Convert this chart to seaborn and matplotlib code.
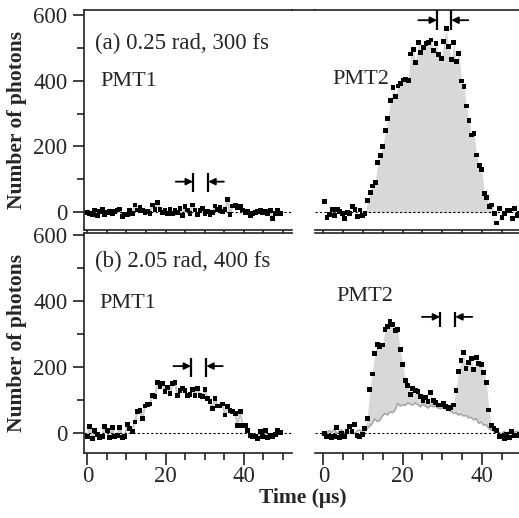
import numpy as np
import matplotlib
matplotlib.use('Agg')
import matplotlib.pyplot as plt
from matplotlib.ticker import MultipleLocator
from matplotlib.lines import Line2D
import seaborn as sns

# ---------------- data ----------------
dt = 0.64  # sampling step in microseconds
t0_pmt1_a = 0.0
t0_pmt2_a = 0.3
t0_pmt1_b = 0.0
t0_pmt2_b = 0.2

pmt1_a = [-1, -3, -8, 7, -11, 2, 9, -8, -1,
          2, -5, 2, 7, 10, -13, -8, -6, 7, -3,
          22, 7, 15, 5, -1, 2, -3, 22, 9, 29,
          9, -1, 7, -3, 9, -5, 7, -1, 12, -11,
          17, 7, -3, 22, 7, -8, 5, 12, -5,
          2, -8, -1, 19, 9, 15, 2, 9, 39, -8,
          19, 22, 15, 17, 7, -1, 2, -11, -5, -1,
          2, 5, -1, 2, -3, 5, -18, -3, 7, -3]

pmt2_a = [32, -15, -8, 9, -11, 9, 2, -3, -18, -1,
          -3, 17, 9, -13, 7, -11, -5, 35, 60, 80,
          90, 152, 172, 199, 248, 284, 339, 380, 352, 384,
          392, 402, 404, 400, 481, 496, 455, 517, 486, 501,
          514, 517, 524, 493, 514, 480, 468, 518, 559, 503,
          465, 517, 458, 483, 399, 382, 323, 278, 235, 240,
          174, 141, 129, 58, 46, 17, 22, -3, -33, 12,
          -15, -3, 7, 5, -18, 12, -11, -5]

pmt1_b = [-11, 21, -16, 7, -3, -13, -9, 19, 7, -13,
          17, -9, -6, 17, -13, -11, 27, 14, 6, 34,
          65, 68, 44, 82, 86, 88, 115, 110, 153, 142,
          150, 125, 138, 120, 150, 153, 115, 130, 135, 130,
          115, 118, 132, 115, 135, 115, 112, 132, 105, 95,
          75, 105, 82, 82, 88, 55, 80, 68, 65, 60,
          24, 65, 24, 24, 7, -6, -9, -11, -16, 4,
          -11, 9, -13, -6, -9, -3, 9, 1]

pmt2_b = [-1, -11, -9, -13, -11, 17, -13, 0, -11, 5,
          21, 5, 26, -6, -11, -4, 14, 44, 133, 179,
          241, 269, 262, 267, 314, 324, 337, 330, 310, 314,
          253, 209, 159, 145, 118, 135, 128, 125, 112, 100,
          108, 95, 123, 100, 92, 85, 85, 90, 80, 73,
          78, 85, 130, 186, 219, 244, 196, 215, 226, 193,
          228, 211, 208, 183, 153, 70, 24, 14, 7, -11,
          -9, -15, -5, -12, 5, -8, -8, -3]

pmt2_b_ref = [5, -3, 8, 2, 12, -2, 6, 10, 0, 8,
              3, 12, -4, 6, 10, 2, 8, 14, 22, 29,
              44, 35, 39, 52, 60, 55, 65, 62, 70, 90,
              82, 86, 84, 92, 88, 85, 92, 86, 80, 88,
              82, 76, 84, 80, 82, 76, 74, 78, 72, 70,
              66, 60, 62, 55, 58, 52, 54, 46, 48, 40,
              44, 30, 34, 24, 26, 14, 10, 6, 4, 2,
              -2, 5, 0, 4, -3, 3, 6, 2]

panel_titles = ["(a) 0.25 rad, 300 fs", "(b) 2.05 rad, 400 fs"]
detectors = ["PMT1", "PMT2"]
y_ticks = [0, 200, 400, 600]
x_ticks = [0, 20, 40]

# pulse-width markers: (bar1, bar2, arrow y, bar low, bar high, left start, right start)
markers_a1 = (27.0, 30.9, 93, 62, 118, 22.6, 34.9)
markers_a2 = (28.7, 32.3, 584, 554, 614, 24.0, 36.6)
markers_b1 = (26.5, 30.4, 203, 170, 229, 22.0, 34.6)
markers_b2 = (29.5, 33.3, 352, 322, 368, 24.9, 37.6)

# ---------------- style ----------------
sns.set_style('ticks')
plt.rcParams['font.family'] = ['Liberation Serif', 'DejaVu Serif']
plt.rcParams['axes.linewidth'] = 1.2

W, H = 519, 518
fig = plt.figure(figsize=(W / 100, H / 100), dpi=100)

def fx(px):
    return px / W

def fy(py):
    return 1 - py / H

L0, L1 = 84, 292
R0, R1 = 315, 519
T0, T1 = 10, 230
B0, B1 = 233.3, 453.3

ax_tl = fig.add_axes([fx(L0), fy(T1), (L1 - L0) / W, (T1 - T0) / H])
ax_tr = fig.add_axes([fx(R0), fy(T1), (R1 - R0) / W, (T1 - T0) / H])
ax_bl = fig.add_axes([fx(L0), fy(B1), (L1 - L0) / W, (B1 - B0) / H])
ax_br = fig.add_axes([fx(R0), fy(B1), (R1 - R0) / W, (B1 - B0) / H])

TICK_FS = 16.5
TEXT_FS = 16

spine_col = '#222222'
for ax in (ax_tl, ax_tr, ax_bl, ax_br):
    for s in ax.spines.values():
        s.set_color(spine_col)
        s.set_linewidth(1.2)
    ax.spines['right'].set_visible(False)
    ax.xaxis.set_major_locator(MultipleLocator(20))
    ax.xaxis.set_minor_locator(MultipleLocator(5))
    ax.tick_params(axis='x', which='major', direction='out', length=8.5, width=1.2,
                   labelsize=TICK_FS, pad=1.0, color=spine_col, top=False)
    ax.tick_params(axis='x', which='minor', direction='out', length=5, width=1.2,
                   color=spine_col, top=False)
    ax.axhline(0, color='k', lw=0.8, ls=(0, (2, 2)), zorder=3)

for ax in (ax_tl, ax_tr):
    ax.set_ylim(-54, 615)
    ax.tick_params(axis='x', labelbottom=False)
for ax in (ax_bl, ax_br):
    ax.set_ylim(-61, 605)

for ax in (ax_tl, ax_bl):
    ax.set_xlim(-0.85, 52.3)
    ax.set_yticks(y_ticks)
    ax.yaxis.set_minor_locator(MultipleLocator(100))
    ax.tick_params(axis='y', which='major', direction='out', length=8, width=1.2,
                   labelsize=TICK_FS, pad=4, color=spine_col, right=False)
    ax.tick_params(axis='y', which='minor', direction='out', length=5, width=1.2,
                   color=spine_col, right=False)
    ax.set_ylabel('Number of photons', fontsize=15.5, fontweight='bold')
    ax.yaxis.set_label_coords(-0.275, 0.5)

for ax in (ax_tr, ax_br):
    ax.set_xlim(-2.1, 49.4)
    ax.spines['left'].set_visible(False)
    ax.set_yticks([])

for ax in (ax_tl, ax_bl, ax_tr, ax_br):
    ax.set_xticks(x_ticks)

# bridge the top frame line across the gap between the top panels
fig.add_artist(Line2D([fx(L1) - 0.002, fx(R0) + 0.002], [fy(T0)] * 2,
                      transform=fig.transFigure, color=spine_col, lw=1.2,
                      solid_capstyle='butt'))

def times(t0, vals):
    return t0 + dt * np.arange(len(vals))

def dots(ax, t, v):
    sns.scatterplot(x=t, y=v, ax=ax, marker='s', s=12, color='k', edgecolor='none',
                    linewidth=0, zorder=5, legend=False)

fill_col = '#d8d8d8'

# (a) PMT1
t = times(t0_pmt1_a, pmt1_a)
sns.lineplot(x=t, y=pmt1_a, ax=ax_tl, color='#c8c8c8', lw=1.5, zorder=2, legend=False)
dots(ax_tl, t, pmt1_a)

# (a) PMT2
t = times(t0_pmt2_a, pmt2_a)
v = np.array(pmt2_a, dtype=float)
pulse = (t > 10.3) & (t < 43.5)
ax_tr.fill_between(t, 0, v, where=pulse & (v > 0), interpolate=True, color=fill_col,
                   lw=0, zorder=1)
dots(ax_tr, t, pmt2_a)

# (b) PMT1
t = times(t0_pmt1_b, pmt1_b)
sns.lineplot(x=t, y=pmt1_b, ax=ax_bl, color='#c8c8c8', lw=1.5, zorder=2, legend=False)
dots(ax_bl, t, pmt1_b)

# (b) PMT2
t = times(t0_pmt2_b, pmt2_b)
v = np.array(pmt2_b, dtype=float)
r = np.array(pmt2_b_ref, dtype=float)
pulse = (t > 10.0) & (t < 43.5)
ax_br.fill_between(t, r, v, where=pulse & (v > r), interpolate=True, color=fill_col,
                   lw=0, zorder=1)
sns.lineplot(x=t, y=pmt2_b_ref, ax=ax_br, color='#a8a8a8', lw=1.2, zorder=2, legend=False)
dots(ax_br, t, pmt2_b)

def bracket(ax, m):
    x1, x2, y, ylo, yhi, ls, rs = m
    ax.vlines([x1, x2], ylo, yhi, color='k', lw=1.6, zorder=6, clip_on=False)
    ap = dict(arrowstyle='-|>', color='k', lw=1.3, mutation_scale=10, shrinkA=0, shrinkB=0)
    ax.annotate('', xy=(x1, y), xytext=(ls, y), arrowprops=ap, zorder=6)
    ax.annotate('', xy=(x2, y), xytext=(rs, y), arrowprops=ap, zorder=6)

bracket(ax_tl, markers_a1)
bracket(ax_tr, markers_a2)
bracket(ax_bl, markers_b1)
bracket(ax_br, markers_b2)

# texts
ax_tl.text(0.053, 0.85, panel_titles[0], transform=ax_tl.transAxes, fontsize=16.5,
           ha='left', va='center', zorder=7)
ax_bl.text(0.053, 0.87, panel_titles[1], transform=ax_bl.transAxes, fontsize=16.5,
           ha='left', va='center', zorder=7)
ax_tl.text(0.077, 0.673, detectors[0], transform=ax_tl.transAxes, fontsize=TEXT_FS,
           ha='left', va='center')
ax_tr.text(0.087, 0.682, detectors[1], transform=ax_tr.transAxes, fontsize=TEXT_FS,
           ha='left', va='center', zorder=7)
ax_bl.text(0.072, 0.683, detectors[0], transform=ax_bl.transAxes, fontsize=TEXT_FS,
           ha='left', va='center')
ax_br.text(0.103, 0.712, detectors[1], transform=ax_br.transAxes, fontsize=TEXT_FS,
           ha='left', va='center')

fig.text(fx(303), fy(498), 'Time (μs)', ha='center', va='center', fontsize=15.5,
         fontweight='bold')

fig.savefig('out.png', dpi=100)
